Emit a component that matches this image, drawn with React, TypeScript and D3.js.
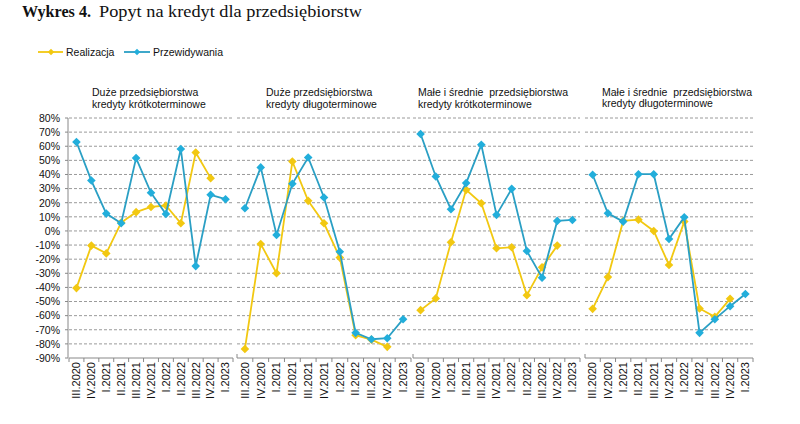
import React from 'react';
import * as d3 from 'd3';

const categories = ['III.2020','IV.2020','I.2021','II.2021','III.2021','IV.2021','I.2022','II.2022','III.2022','IV.2022','I.2023'];
const yTicks = [80,70,60,50,40,30,20,10,0,-10,-20,-30,-40,-50,-60,-70,-80,-90];

const panelTitles: string[][] = [
  ['Duże przedsiębiorstwa', 'kredyty krótkoterminowe'],
  ['Duże przedsiębiorstwa', 'kredyty długoterminowe'],
  ['Małe i średnie  przedsiębiorstwa', 'kredyty krótkoterminowe'],
  ['Małe i średnie  przedsiębiorstwa', 'kredyty długoterminowe'],
];

// Realizacja (null = no value)
const real1 = [-40.5, -10.4, -15.9, 5.9, 13.3, 17, 18, 5.4, 55.6, 37.4, null];
const real2 = [-83.6, -9.2, -30, 49.2, 21.3, 5.4, -18.9, -73.9, -77, -82.1, null];
const real3 = [-56.1, -47.8, -8, 29.1, 19.6, -12.3, -11.6, -45.5, -25.8, -10.4, null];
const real4 = [-55.2, -32.7, 7.1, 8, 0, -24.1, 6.6, -54.9, -60.8, -48.1, null];

// Przewidywania
const prz1 = [63, 35.7, 12.3, 5.4, 51.6, 27, 12, 58, -24.9, 25.6, 22.5];
const prz2 = [16.1, 45, -2.8, 33.4, 52, 23.7, -14.7, -72.2, -76.7, -76, -62.5];
const prz3 = [68.7, 38.6, 15.4, 33.9, 61, 11.4, 29.8, -14.2, -33.1, 7.1, 7.8];
const prz4 = [39.8, 12.5, 6.6, 40.2, 40.2, -5.7, 9.7, -72.2, -62.5, -53.3, -44.7];

const realData = [real1, real2, real3, real4];
const przData = [prz1, prz2, prz3, prz4];

const YELLOW = '#F2C811';
const BLUE_LINE = '#2A9FC4';
const BLUE_MARK = '#22AEDB';
const SANS = 'Liberation Sans, Arial, sans-serif';

const panelRanges: [number, number][] = [[69, 233], [237, 411], [413, 580], [585, 753]];
const titlePos = [
  { x: 92, y1: 96, y2: 107.5 },
  { x: 266, y1: 96, y2: 107.5 },
  { x: 418, y1: 96, y2: 107.5 },
  { x: 602, y1: 95.5, y2: 107 },
];

const y = d3.scaleLinear().domain([-90, 80]).range([358, 118]);

const diamond = (cx: number, cy: number, r = 4.3) =>
  `M${cx},${cy - r}L${cx + r},${cy}L${cx},${cy + r}L${cx - r},${cy}Z`;

function Series({ data, x, color, markColor }: { data: (number | null)[]; x: d3.ScaleBand<string>; color: string; markColor: string }) {
  const pts = categories.map((c, i) => ({ c, v: data[i] }));
  const line = d3.line<{ c: string; v: number | null }>()
    .defined(d => d.v !== null)
    .x(d => (x(d.c) as number) + x.bandwidth() / 2)
    .y(d => y(d.v as number));
  return (
    <g>
      <path d={line(pts) || ''} fill="none" stroke={color} strokeWidth={1.8} />
      {pts.filter(p => p.v !== null).map(p => (
        <path key={p.c} d={diamond((x(p.c) as number) + x.bandwidth() / 2, y(p.v as number))} fill={markColor} />
      ))}
    </g>
  );
}

export default function App() {
  return (
    <svg width={800} height={424} style={{ position: 'absolute', left: 0, top: 0, background: '#fff' }}>
      <rect width={800} height={424} fill="#fff" />
      {/* Title */}
      <text x={22} y={17} fontFamily="Liberation Serif, Times New Roman, serif" fontSize={17.5} fill="#111" fontWeight="bold" textLength={69} lengthAdjust="spacingAndGlyphs">
        Wykres 4.
      </text>
      <text x={99} y={17} fontFamily="Liberation Serif, Times New Roman, serif" fontSize={17.5} fill="#111" textLength={263} lengthAdjust="spacingAndGlyphs">
        Popyt na kredyt dla przedsiębiorstw
      </text>
      {/* Legend */}
      <g fontFamily={SANS} fontSize={10.5} fill="#111">
        <line x1={38} x2={63} y1={52} y2={52} stroke={YELLOW} strokeWidth={1.8} />
        <path d={diamond(51, 52, 3.2)} fill={YELLOW} />
        <text x={66} y={55.5}>Realizacja</text>
        <line x1={124} x2={150} y1={52} y2={52} stroke={BLUE_LINE} strokeWidth={1.8} />
        <path d={diamond(137, 52, 3.2)} fill={BLUE_MARK} />
        <text x={153} y={55.5}>Przewidywania</text>
      </g>
      {/* Y axis */}
      <g fontFamily={SANS} fontSize={10.5} fill="#111">
        {yTicks.map(t => (
          <text key={t} x={60} y={y(t) + 3.8} textAnchor="end">{t}%</text>
        ))}
        <line x1={68} x2={68} y1={y(80)} y2={y(-90)} stroke="#888" strokeWidth={1} />
        {yTicks.map(t => (
          <line key={'t' + t} x1={65} x2={68} y1={y(t)} y2={y(t)} stroke="#888" strokeWidth={1} />
        ))}
      </g>
      {panelRanges.map((r, pi) => {
        const x = d3.scaleBand<string>().domain(categories).range(r).padding(0);
        const tp = titlePos[pi];
        return (
          <g key={pi}>
            {yTicks.filter(t => t > -90).map(t => (
              <line key={t} x1={r[0]} x2={r[1]} y1={y(t)} y2={y(t)} stroke="#9a9a9a" strokeWidth={1} strokeDasharray="3,2" />
            ))}
            <line x1={r[0]} x2={r[1]} y1={y(-90)} y2={y(-90)} stroke="#888" strokeWidth={1} />
            {pi > 0 && <line x1={r[0]} x2={r[0]} y1={y(-90) - 4} y2={y(-90)} stroke="#888" strokeWidth={1} />}
            {categories.map(c => (
              <line key={'xt' + c} x1={(x(c) as number) + x.bandwidth()} x2={(x(c) as number) + x.bandwidth()} y1={y(-90)} y2={y(-90) + 4} stroke="#888" strokeWidth={1} />
            ))}
            {pi === 0 && <line x1={r[0]} x2={r[0]} y1={y(-90)} y2={y(-90) + 4} stroke="#888" strokeWidth={1} />}
            {categories.map(c => {
              const cx = (x(c) as number) + x.bandwidth() / 2;
              return (
                <text key={'xl' + c} transform={`translate(${cx + 3.8},362) rotate(-90)`} textAnchor="end" fontFamily={SANS} fontSize={11} fill="#111">{c}</text>
              );
            })}
            <text fontFamily={SANS} fontSize={10.5} fill="#111" style={{ whiteSpace: 'pre' }}>
              <tspan x={tp.x} y={tp.y1}>{panelTitles[pi][0]}</tspan>
              <tspan x={tp.x} y={tp.y2}>{panelTitles[pi][1]}</tspan>
            </text>
            <Series data={realData[pi]} x={x} color={YELLOW} markColor={YELLOW} />
            <Series data={przData[pi]} x={x} color={BLUE_LINE} markColor={BLUE_MARK} />
          </g>
        );
      })}
    </svg>
  );
}
